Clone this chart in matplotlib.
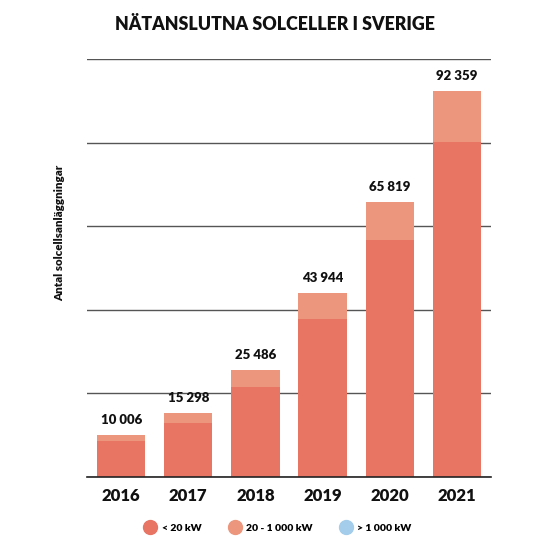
import matplotlib
matplotlib.use("Agg")
import matplotlib.pyplot as plt
from matplotlib.lines import Line2D
import numpy as np

years = ["2016", "2017", "2018", "2019", "2020", "2021"]
totals = [10006, 15298, 25486, 43944, 65819, 92359]
small = [8670, 12960, 21550, 37800, 56600, 80200]  # < 20 kW
series_names = ["< 20 kW", "20 - 1 000 kW", "> 1 000 kW"]
colors = ["#E87464", "#ED967E", "#A3CDEB"]

plt.rcParams["font.family"] = ["Lato", "DejaVu Sans"]

mid = [t - s for t, s in zip(totals, small)]
x = np.arange(len(years))

fig = plt.figure(figsize=(5.5, 5.5), dpi=100)
ax = fig.add_axes([0.158, 0.1327, 0.735, 0.76])

ax.bar(x, small, width=0.72, color=colors[0], zorder=3)
ax.bar(x, mid, bottom=small, width=0.72, color=colors[1], zorder=3)

for xi, t in zip(x, totals):
    lbl = f"{t:,}".replace(",", " ")
    ax.text(xi, t + 2200, lbl, ha="center", va="bottom", fontsize=9.5,
            fontweight="heavy", color="#111111")

ax.set_xlim(-0.51, 5.51)
ax.set_ylim(0, 100000)
ax.set_yticks(np.arange(0, 100001, 20000))
ax.yaxis.grid(True, color="#555555", linewidth=1.0, zorder=0)
ax.tick_params(axis="y", length=0, labelleft=False)
ax.set_xticks(x)
ax.set_xticklabels(years, fontsize=12, fontweight="heavy", color="#111111")
ax.tick_params(axis="x", length=0, pad=8)
for side in ["top", "right", "left"]:
    ax.spines[side].set_visible(False)
ax.spines["bottom"].set_color("#222222")
ax.spines["bottom"].set_linewidth(1.2)
ax.spines["bottom"].set_zorder(4)

ax.set_ylabel("Antal solcellsanläggningar", fontsize=8.3, fontweight="heavy",
              color="#111111")
ax.yaxis.set_label_coords(-0.055, 0.585)

fig.text(0.5, 0.955, "NÄTANSLUTNA SOLCELLER I SVERIGE", ha="center", va="center",
         fontsize=12.8, fontweight="heavy", color="#111111")

handles = [Line2D([], [], marker="o", linestyle="", markersize=10,
                  markerfacecolor=c, markeredgecolor=c) for c in colors]
fig.legend(handles, series_names, loc="center", bbox_to_anchor=(0.505, 0.04),
           ncol=3, frameon=False, columnspacing=2.6, handlelength=1.2,
           handletextpad=0.5, prop={"weight": "heavy", "size": 7.5})

fig.savefig("out.png", dpi=100)
